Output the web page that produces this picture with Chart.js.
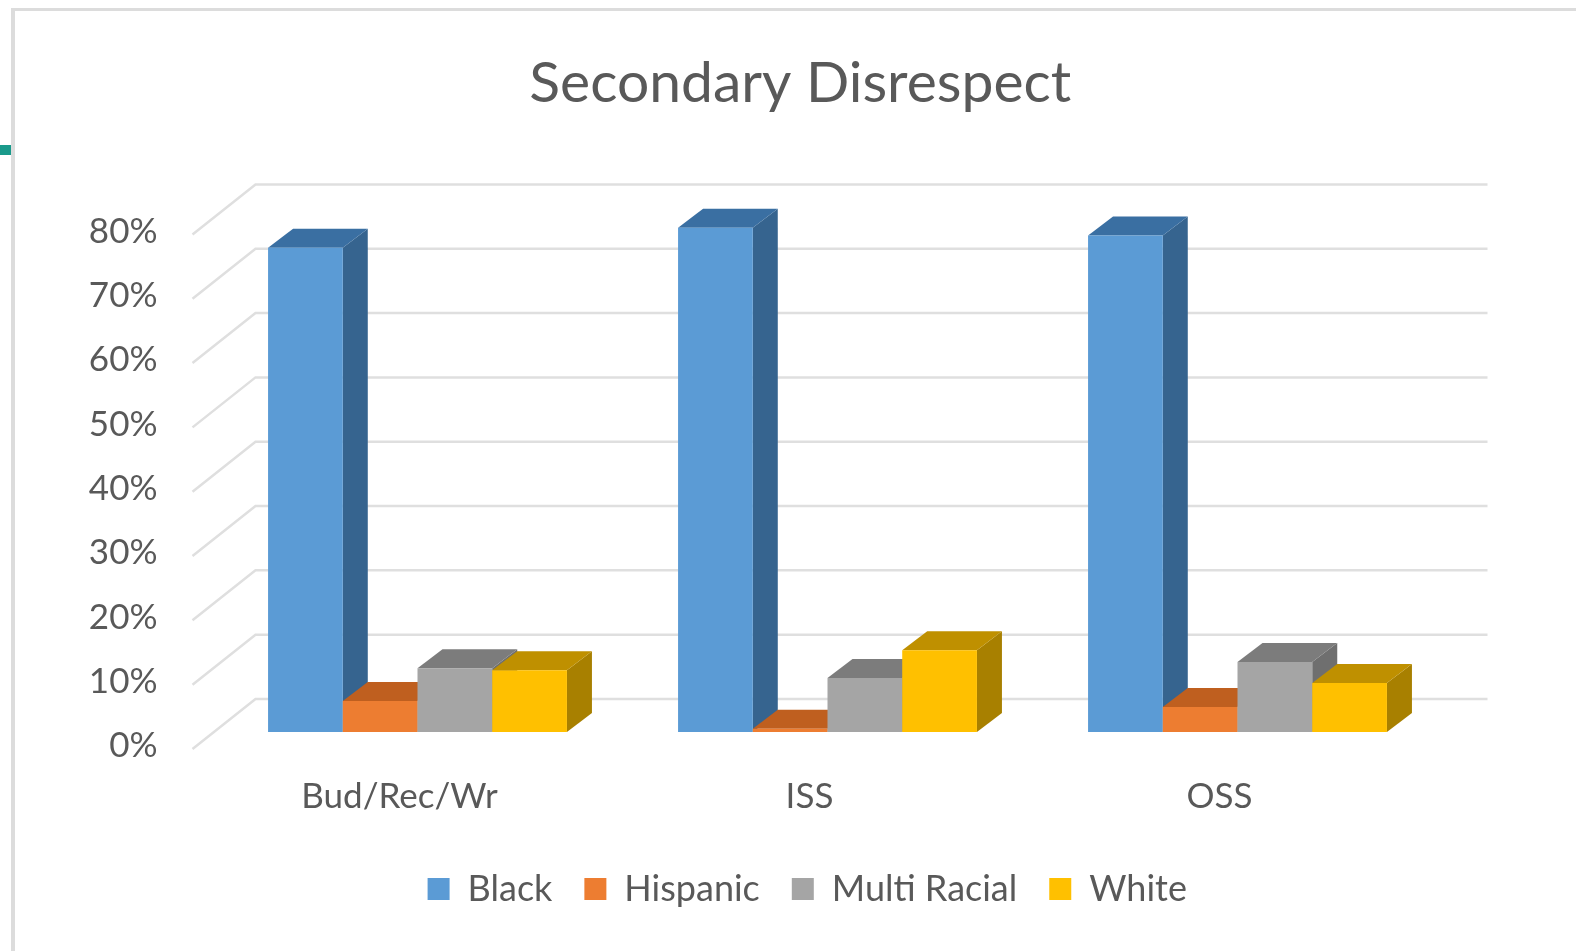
<!DOCTYPE html>
<html>
<head>
<meta charset="utf-8">
<title>Secondary Disrespect</title>
<script src="https://cdn.jsdelivr.net/npm/chart.js@4/dist/chart.umd.min.js"></script>
<style>
  html, body { margin: 0; padding: 0; background: #fff; overflow: hidden; }
  #wrap { position: relative; width: 1576px; height: 951px; }
  #frameLeft { position: absolute; left: 11px; top: 8px; width: 4px; height: 943px; background: #dcdcdc; }
  #frameTop { position: absolute; left: 11px; top: 8px; width: 1565px; height: 3px; background: #dcdcdc; }
  #tab { position: absolute; left: 0; top: 145px; width: 11px; height: 10px; background: #1a9a8b; }
  /* the reference is a soft, upscaled screenshot */
  canvas { position: absolute; left: 0; top: 0; filter: blur(0.6px); }
</style>
</head>
<body>
<div id="wrap">
  <div id="frameLeft"></div>
  <div id="frameTop"></div>
  <div id="tab"></div>
  <canvas id="chart" width="1576" height="951"></canvas>
</div>
<script>
const categories = ['Bud/Rec/Wr', 'ISS', 'OSS'];
const black = [75.3, 78.4, 77.2];
const hispanic = [4.8, 0.5, 3.9];
const multiRacial = [9.9, 8.4, 10.9];
const white = [9.6, 12.7, 7.6];

const textColor = '#595959';
const fontFamily = 'Lato, "Open Sans", sans-serif';

// depth of a bar
const barDepthX = 25, barDepthY = 19;

const polygon = (ctx, color, pts) => {
  ctx.fillStyle = color;
  ctx.beginPath();
  pts.forEach((p, i) => i ? ctx.lineTo(p[0], p[1]) : ctx.moveTo(p[0], p[1]));
  ctx.closePath();
  ctx.fill();
};

// title and legend are centred on the picture, not on the plot
const shiftPlugin = {
  id: 'shift',
  afterLayout(chart) {
    chart.titleBlock.left += 79;
    chart.titleBlock.right += 79;
    chart.legend.left += 86;
    chart.legend.right += 86;
  }
};

// back wall lines and the diagonals on the side wall
const wallPlugin = {
  id: 'wall',
  beforeDatasetsDraw(chart) {
    const { ctx, chartArea, scales } = chart;
    ctx.save();
    ctx.strokeStyle = '#dfdfdf';
    ctx.lineWidth = 2.5;
    scales.y.ticks.forEach((tick) => {
      const y = scales.y.getPixelForValue(tick.value);
      ctx.beginPath();
      ctx.moveTo(chartArea.left - 20, y + 17);
      ctx.lineTo(chartArea.left + 43, y - 33);
      ctx.lineTo(chartArea.right + 45, y - 33);
      ctx.stroke();
    });
    ctx.restore();
  }
};

// bars go left to right so each front hides the side of the bar before it
const depthPlugin = {
  id: 'depth',
  beforeDatasetsDraw(chart) {
    const { ctx } = chart;
    chart.data.datasets.forEach((ds, i) => {
      chart.getDatasetMeta(i).data.forEach((bar) => {
        const { x, y, base, width } = bar.getProps(['x', 'y', 'base', 'width'], true);
        const l = x - width / 2, r = x + width / 2;
        polygon(ctx, ds.sideColor, [[r, y], [r + barDepthX, y - barDepthY], [r + barDepthX, base - barDepthY], [r, base]]);
        polygon(ctx, ds.topColor, [[l, y], [l + barDepthX, y - barDepthY], [r + barDepthX, y - barDepthY], [r, y]]);
        bar.draw(ctx);
      });
    });
  },
  beforeDatasetDraw() {
    return false;
  }
};

new Chart(document.getElementById('chart'), {
  type: 'bar',
  data: {
    labels: categories,
    datasets: [
      { label: 'Black', data: black, backgroundColor: '#5b9bd5', sideColor: '#36648f', topColor: '#3a6fa2' },
      { label: 'Hispanic', data: hispanic, backgroundColor: '#ed7d31', sideColor: '#a85a22', topColor: '#bf5f1f' },
      { label: 'Multi Racial', data: multiRacial, backgroundColor: '#a5a5a5', sideColor: '#6f6f6f', topColor: '#7c7c7c' },
      { label: 'White', data: white, backgroundColor: '#ffc000', sideColor: '#a88000', topColor: '#bf9000' }
    ]
  },
  plugins: [shiftPlugin, wallPlugin, depthPlugin],
  options: {
    responsive: false,
    animation: false,
    layout: { padding: { left: 0, right: 133.5, top: 0, bottom: 34 } },
    datasets: { bar: { barPercentage: 1, categoryPercentage: 0.729 } },
    scales: {
      x: {
        grid: { display: false, drawTicks: false },
        border: { display: false },
        afterFit: (scale) => { scale.height = 107; },
        ticks: {
          color: textColor,
          font: { family: fontFamily, size: 35 },
          padding: 44,
          labelOffset: -18,
          maxRotation: 0,
          autoSkip: false
        }
      },
      y: {
        min: 0,
        max: 80,
        grid: { display: false, drawTicks: false },
        border: { display: false },
        afterFit: (scale) => { scale.width = 212.5; },
        ticks: {
          color: textColor,
          stepSize: 10,
          font: { family: fontFamily, size: 35 },
          padding: 55,
          labelOffset: 14,
          callback: (v) => v + '%'
        }
      }
    },
    plugins: {
      tooltip: { enabled: false },
      title: {
        display: true,
        text: 'Secondary Disrespect',
        color: textColor,
        font: { family: fontFamily, size: 57, weight: 'normal' },
        padding: { top: 49, bottom: 100 }
      },
      legend: {
        position: 'bottom',
        labels: {
          color: textColor,
          font: { family: fontFamily, size: 36 },
          boxWidth: 22,
          boxHeight: 22,
          padding: 32
        }
      }
    }
  }
});
</script>
</body>
</html>
